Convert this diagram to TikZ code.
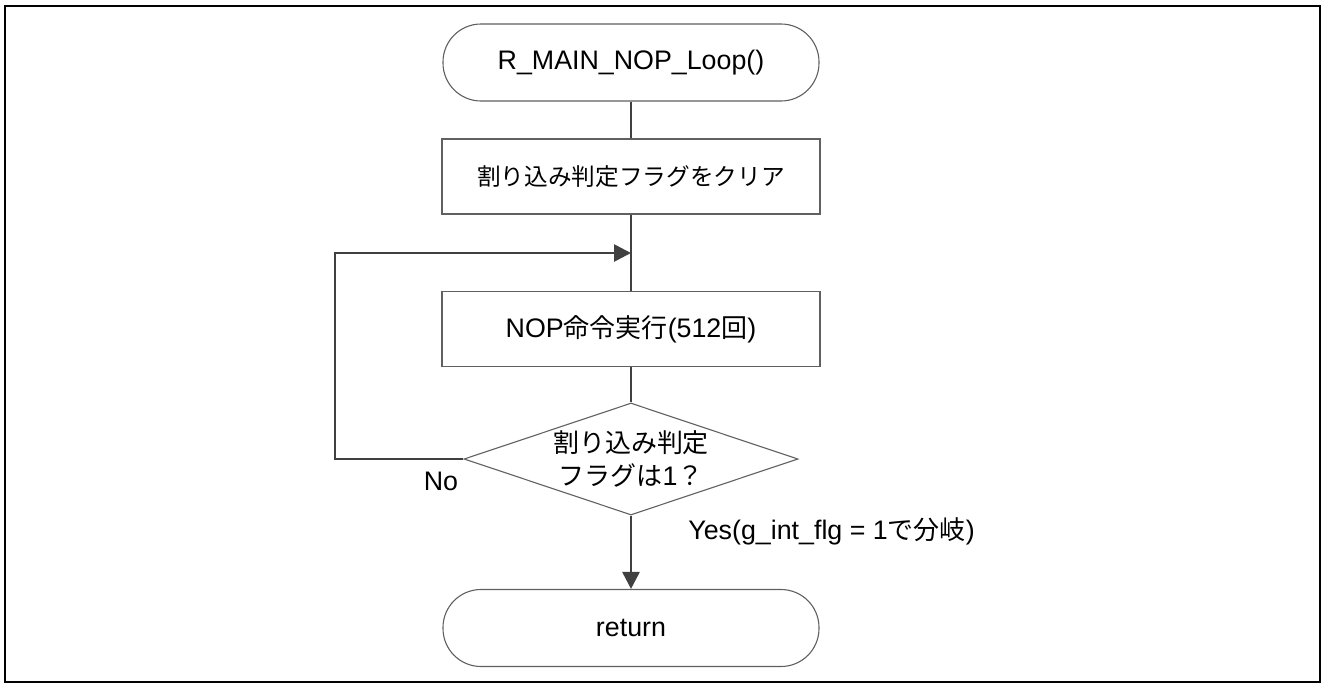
\documentclass[tikz,border=0pt]{standalone}
\usepackage{fontspec}
\setmainfont{Liberation Sans}[Ligatures=NoCommon]
\newfontfamily\jp{Noto Sans CJK JP}[Scale=0.97]
\usetikzlibrary{shapes.geometric,arrows.meta}
\definecolor{linec}{HTML}{404040}
\definecolor{boxc}{HTML}{606060}
\tikzset{
  x=0.5pt, y=-0.5pt,
  every node/.style={font=\fontsize{13.4}{16.5}\selectfont, text=black},
  term/.style={draw=boxc, line width=0.55pt, rectangle, rounded corners=19pt,
    minimum width=188pt, minimum height=38.5pt, inner sep=0pt},
  procbox/.style={draw=boxc, line width=0.55pt, rectangle,
    minimum width=189pt, minimum height=37.5pt, inner sep=0pt},
  decision/.style={draw=boxc, line width=0.55pt, diamond, aspect=2.98,
    minimum width=167pt, minimum height=56pt, inner sep=0pt},
  conn/.style={draw=linec, line width=1.35pt},
  arr/.style={conn, -{Triangle[length=8.5pt, width=8.5pt]}},
  frame/.style={draw=black, line width=1.4pt},
}
\begin{document}
\begin{tikzpicture}
\useasboundingbox (0,0) rectangle (1324,687);
\draw[frame] (5,6) rectangle (1320,682);

\node[term] (start) at (631,62.5) {R\_MAIN\_NOP\_Loop()};
\node[procbox] (p1) at (631,176.5) {\fontsize{12.2}{15}\selectfont{\jp 割り込み判定フラグをクリア}};
\node[procbox] (p2) at (631,329) {NOP{\jp 命令実行}(512{\jp 回})};
\node[decision] (d) at (631,459) {};
\node[align=center] (dt) at (631,459) {{\jp 割り込み判定}\\{\jp フラグは}1{\jp ？}};
\node[term] (ret) at (631,628) {return};

\coordinate (loopin) at (p1.south |- 0,253);
\coordinate (lbot) at (335,0 |- d.west);
\coordinate (ltop) at (335,253);

\draw[conn] (start.south) -- (p1.north);
\draw[conn] (p1.south) -- (p2.north);
\draw[conn] (p2.south) -- (d.north);
\draw[arr] (d.west) -- (lbot) -- (ltop) -- (loopin);
\draw[arr] (d.south) -- (ret.north);

\node (no) at (441,481) {No};
\node[anchor=west, inner sep=0pt] (yes) at (688,531) {Yes(g\_int\_flg = 1{\jp で分岐})};
\end{tikzpicture}
\end{document}
